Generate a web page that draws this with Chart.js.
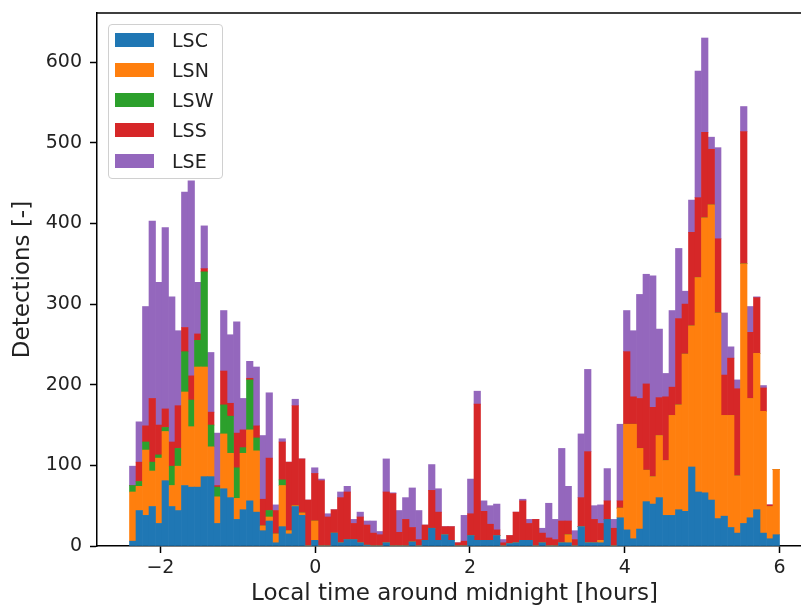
<!DOCTYPE html>
<html>
<head>
<meta charset="utf-8">
<script src="https://cdn.jsdelivr.net/npm/chart.js@4.4.0/dist/chart.umd.min.js"></script>
<style>
  body { margin:0; overflow:hidden; background:#fff; width:801px; height:610px; }
  #wrap { position:relative; width:830px; height:610px; }
  #legend { position:absolute; left:108px; top:24px; width:113px; height:153px; border:1px solid #d0d0d0; border-radius:4px;
            background:rgba(255,255,255,0.8); font-family:"DejaVu Sans"; font-size:19px; color:#222; }
  .row { position:absolute; left:6px; height:20px; display:flex; align-items:center; white-space:nowrap; }
  .sw { width:39px; height:14px; margin-right:18px; }
</style>
</head>
<body>
<div id="wrap">
  <canvas id="histChart" width="830" height="610"></canvas>
  <div id="legend"></div>
</div>
<script>
// histogram bins (hours around local midnight)
const binStart = -2.4;
const binWidth = 0.084;

const seriesNames = ["LSC", "LSN", "LSW", "LSS", "LSE"];
const seriesColors = ["#1f77b4", "#ff7f0e", "#2ca02c", "#d62728", "#9467bd"];

// counts per bin
const lsc = [6,44,38,49,28,81,49,44,75,73, 73,86,86,28,71,60,33,45,56,42, 19,31,4,24,15,49,38,0,7,0,
             0,16,4,8,8,4,1,0,0,4, 0,0,0,5,0,7,22,7,14,7, 0,0,13,7,7,7,13,0,3,4, 7,7,0,4,0,0,4,4,0,24,
             4,4,4,33,0,35,20,9,21,55, 52,60,38,38,45,43,98,67,66,57, 34,37,23,16,28,35,45,16,9,14];
const lsn = [61,30,81,44,81,61,26,55,116,75, 149,136,37,33,68,55,26,70,88,76, 6,5,11,51,4,1,3,0,24,0,
             0,0,0,0,0,0,0,0,0,0, 0,0,0,0,0,0,0,0,0,0, 0,0,0,0,0,0,0,0,0,0, 0,0,0,0,0,0,0,10,0,0,
             0,0,3,0,0,12,131,142,100,39, 34,77,68,124,130,195,175,266,341,366, 255,125,139,71,322,148,194,151,40,81];
const lsw = [8,6,10,11,4,5,24,22,50,33, 33,118,27,12,36,46,38,7,62,16, 0,8,0,7,0,0,0,0,0,0,
             0,0,0,0,0,0,0,0,0,0, 0,0,0,0,0,0,0,0,0,0, 0,0,0,0,0,0,0,0,0,0, 0,0,0,0,0,0,0,0,0,0,
             0,0,0,0,0,0,0,0,0,0, 0,0,0,0,0,0,0,0,0,0, 0,0,0,0,0,0,0,0,0,0];
const lss = [0,24,20,79,37,23,30,53,30,30, 8,4,16,2,42,16,43,22,2,15, 33,65,29,47,85,124,67,57,59,81,
             36,29,56,59,20,32,25,16,14,63, 65,17,33,18,8,19,47,35,10,17, 4,6,27,169,36,20,7,4,10,38,
             49,21,33,12,10,8,27,17,8,36, 113,29,21,23,22,9,90,34,62,107, 86,47,79,35,107,62,116,99,106,69,
             92,50,71,108,164,82,69,29,2,0];
const lse = [24,50,148,220,177,225,180,93,168,242, 64,53,74,65,75,85,138,39,21,73, 79,81,7,4,0,8,0,0,7,2,
             4,0,7,7,5,6,5,15,4,41, 1,27,27,49,36,0,32,29,0,0, 0,32,43,16,13,23,32,4,0,0,
             2,5,0,6,43,25,90,43,11,79, 102,17,23,40,11,95,51,82,129,136, 163,85,29,95,87,16,40,157,117,15,
             113,77,14,11,31,32,1,3,0,0];

const xTicks = [-2, 0, 2, 4, 6];
const yTicks = [0, 100, 200, 300, 400, 500, 600];

const allSeries = [lsc, lsn, lsw, lss, lse];
const datasets = allSeries.map((vals, k) => ({
  label: seriesNames[k],
  data: vals.map((v, i) => ({ x: binStart + binWidth * (i + 0.5), y: v })),
  backgroundColor: seriesColors[k],
  borderWidth: 0,
  barPercentage: 1.0,
  categoryPercentage: 1.0
}));

// top and right spines
const frame = {
  id: 'frame',
  afterDraw(chart) {
    const { ctx, chartArea: a } = chart;
    ctx.save();
    ctx.strokeStyle = '#000';
    ctx.lineWidth = 1.5;
    ctx.beginPath();
    ctx.moveTo(a.left, a.top);
    ctx.lineTo(a.right, a.top);
    ctx.lineTo(a.right, a.bottom);
    ctx.stroke();
    ctx.restore();
  }
};

const font = { family: 'DejaVu Sans', size: 19 };
const titleFont = { family: 'DejaVu Sans', size: 23 };

const chart = new Chart(document.getElementById('histChart'), {
  type: 'bar',
  data: { datasets },
  options: {
    responsive: false,
    animation: false,
    devicePixelRatio: 1,
    layout: { padding: { top: 13, right: 18, left: 0, bottom: 0 } },
    plugins: { legend: { display: false }, tooltip: { enabled: false } },
    scales: {
      x: {
        type: 'linear',
        stacked: true,
        offset: false,
        min: -2.82, max: 6.42,
        afterBuildTicks: s => { s.ticks = xTicks.map(v => ({ value: v })); },
        afterFit: s => { s.height = 64; s.paddingLeft = 0; s.paddingRight = 0; },
        grid: { drawOnChartArea: false, offset: false, tickLength: 7, tickColor: '#000', tickWidth: 1.5 },
        border: { color: '#000', width: 1.5 },
        ticks: { font, color: '#222', padding: 4, maxRotation: 0,
                 callback: v => (v < 0 ? '\u2212' + Math.abs(v) : String(v)) },
        title: { display: true, text: 'Local time around midnight [hours]', font: titleFont, color: '#222',
                 padding: { top: 0, bottom: 2 } }
      },
      y: {
        stacked: true,
        min: 0, max: 661,
        afterBuildTicks: s => { s.ticks = yTicks.map(v => ({ value: v })); },
        afterFit: s => { s.width = 97; s.paddingTop = 0; s.paddingBottom = 0; },
        grid: { drawOnChartArea: false, tickLength: 7, tickColor: '#000', tickWidth: 1.5 },
        border: { color: '#000', width: 1.5 },
        ticks: { font, color: '#222', padding: 8 },
        title: { display: true, text: 'Detections [-]', font: titleFont, color: '#222',
                 padding: { top: 9, bottom: 0 } }
      }
    }
  },
  plugins: [frame]
});

// legend inside the axes, upper left
const legend = document.getElementById('legend');
seriesNames.forEach((name, k) => {
  const row = document.createElement('div');
  row.className = 'row';
  row.style.top = (4.7 + 30.2 * k) + 'px';
  row.innerHTML = `<span class="sw" style="background:${seriesColors[k]}"></span><span>${name}</span>`;
  legend.appendChild(row);
});
</script>
</body>
</html>
